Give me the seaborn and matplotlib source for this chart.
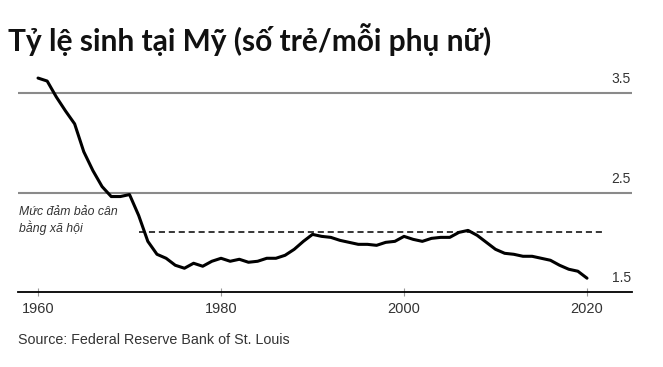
import matplotlib
matplotlib.use("Agg")
import matplotlib.pyplot as plt
import seaborn as sns
import pandas as pd

years = list(range(1960, 2021))
fertility = [3.65, 3.62, 3.46, 3.32, 3.19, 2.91, 2.72, 2.56, 2.46, 2.46,
             2.48, 2.27, 2.01, 1.88, 1.84, 1.77, 1.74, 1.79, 1.76, 1.81,
             1.84, 1.81, 1.83, 1.80, 1.81, 1.84, 1.84, 1.87, 1.93, 2.01,
             2.08, 2.06, 2.05, 2.02, 2.00, 1.98, 1.98, 1.97, 2.00, 2.01,
             2.06, 2.03, 2.01, 2.04, 2.05, 2.05, 2.10, 2.12, 2.07, 2.00,
             1.93, 1.89, 1.88, 1.86, 1.86, 1.84, 1.82, 1.77, 1.73, 1.71,
             1.64]
grid_levels = [3.5, 2.5]
tick_years = [1960, 1980, 2000, 2020]
right_labels = ["3.5", "2.5", "1.5"]
right_label_values = [3.5, 2.5, 1.5]
replacement_level = 2.1
replacement_span = [1971, 2022]

title = "Tỷ lệ sinh tại Mỹ (số trẻ/mỗi phụ nữ)"
note = "Mức đảm bảo cân\nbằng xã hội"
source = "Source: Federal Reserve Bank of St. Louis"

df = pd.DataFrame({"year": years, "rate": fertility})

sns.set_style("white")
plt.rcParams["font.family"] = ["Liberation Sans", "DejaVu Sans"]

fig = plt.figure(figsize=(6.63, 3.67), dpi=100)
ax = fig.add_axes([0.027, 0.204, 0.926, 0.624])

for g in grid_levels:
    ax.axhline(g, color="#8a8a8a", lw=1.5, zorder=1)

ax.plot(replacement_span, [replacement_level] * 2, color="black", lw=1.1,
        ls=(0, (4, 2.5)), zorder=2)

sns.lineplot(data=df, x="year", y="rate", ax=ax, color="black", lw=2.2,
             zorder=3)

ax.set_xlim(1957.8, 2024.9)
ax.set_ylim(1.5, 3.8)
ax.set_xlabel("")
ax.set_ylabel("")
ax.set_yticks([])
ax.set_xticks(tick_years)
ax.set_xticklabels([str(t) for t in tick_years], fontsize=10.5, color="#333333")
ax.tick_params(axis="x", direction="inout", length=6, width=0.8,
               color="#999999", pad=4, bottom=True)
for s in ["top", "right", "left"]:
    ax.spines[s].set_visible(False)
ax.spines["bottom"].set_color("black")
ax.spines["bottom"].set_linewidth(1.3)

for lab, v in zip(right_labels, right_label_values):
    ax.text(2024.8, v + 0.07, lab, ha="right", va="bottom", fontsize=10,
            color="#333333")

ax.text(1957.9, 2.37, note, ha="left", va="top", fontsize=8.8,
        style="italic", color="#333333", linespacing=1.3)

fig.text(0.012, 0.862, title, fontsize=21.5, fontweight="bold",
         family=["Lato", "DejaVu Sans"], ha="left", va="baseline",
         color="#111111")
fig.text(0.027, 0.055, source, fontsize=10.3, color="#333333", ha="left",
         va="bottom")

fig.savefig("out.png", dpi=100)
